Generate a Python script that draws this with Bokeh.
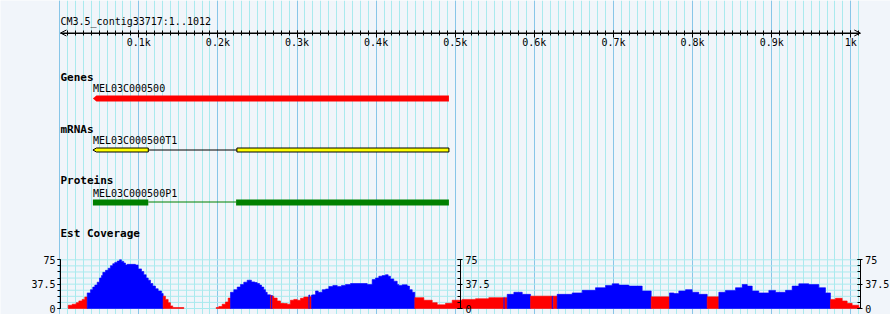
from bokeh.plotting import figure
from bokeh.models import (Range1d, LinearAxis, Grid, FixedTicker, Label, Arrow,
                          OpenHead, ColumnDataSource)
from bokeh.embed import file_html
from bokeh.resources import INLINE

# ---------------- data ----------------
contig_label = "CM3.5_contig33717:1..1012"
contig_start, contig_end = 1, 1012

ruler_ticks = [100, 200, 300, 400, 500, 600, 700, 800, 900, 1000]
ruler_labels = ["0.1k", "0.2k", "0.3k", "0.4k", "0.5k", "0.6k", "0.7k", "0.8k", "0.9k", "1k"]

track_titles = ["Genes", "mRNAs", "Proteins", "Est Coverage"]

gene_name = "MEL03C000500"
gene_start, gene_end = 42, 492

mrna_name = "MEL03C000500T1"
mrna_exon_starts = [42, 224]
mrna_exon_ends = [112, 492]

protein_name = "MEL03C000500P1"
cds_starts = [42, 223]
cds_ends = [112, 492]

# EST coverage (step segments: start bp, depth, colour flag R=red B=blue)
cov_starts = [
    10.8, 15.8, 20.9, 24.2, 28.4, 31.7, 34.8, 38.9, 41.8, 44.4,
    47.4, 50.3, 52.8, 54.5, 57.9, 61.3, 64.2, 67.1, 69.6, 72.7,
    75.6, 78.1, 81.0, 83.2, 85.3, 95.8, 99.2, 103.4, 106.3, 109.3,
    111.9, 114.8, 117.7, 121.1, 124.5, 128.7, 130.8, 133.7, 137.1, 140.0,
    142.9, 156.9, 197.8, 201.1, 205.4, 209.6, 213.0, 215.9, 220.1, 224.4,
    228.5, 232.7, 237.0, 242.4, 246.6, 249.6, 252.6, 255.1, 258.0, 260.1,
    262.3, 266.4, 267.7, 269.0, 270.6, 274.9, 279.1, 283.3, 287.6, 291.7,
    295.9, 300.2, 304.4, 308.6, 314.9, 316.2, 318.3, 320.0, 323.4, 326.8,
    331.9, 336.0, 340.2, 345.3, 350.8, 356.2, 361.3, 367.6, 388.7, 395.0,
    399.2, 403.4, 407.6, 411.8, 415.2, 418.1, 422.3, 426.6, 428.6, 432.9,
    439.2, 442.2, 445.6, 448.9, 460.3, 470.9, 477.2, 487.7, 496.2, 508.8,
    525.6, 542.4, 561.4, 562.7, 565.7, 574.1, 584.7, 595.2, 622.6, 623.9,
    628.9, 647.9, 660.5, 677.3, 690.0, 698.4, 706.8, 719.4, 736.3, 747.7,
    770.8, 776.3, 782.6, 791.1, 799.5, 807.9, 818.5, 833.2, 841.6, 854.3,
    862.7, 869.1, 875.4, 883.7, 896.4, 904.8, 917.5, 925.9, 934.3, 946.9,
    959.6, 968.0, 974.3, 980.6, 989.1, 995.4, 1001.7, 1010.1]
cov_end = 1012
cov_values = [
    5, 6.6, 9, 11.6, 14, 17.7, 24, 29, 33, 36,
    40.5, 47, 50.7, 55.7, 58.8, 62, 66, 69, 71, 73,
    75, 72.5, 70, 67, 68, 67, 61, 57, 52, 47,
    43.6, 38.5, 34.5, 30.4, 27, 23, 19, 14, 9, 4,
    1.5, 0, 1.5, 3, 6.6, 10, 16, 25, 29, 33,
    37, 40.5, 43.6, 41, 40, 38.5, 36, 33, 29, 25,
    21, 20, 20, 19, 16, 11.6, 8, 7.6, 6.6, 12.7,
    14, 12.7, 15.7, 17.7, 20.8, 18, 20.8, 21, 27, 25,
    29, 30, 34, 35.5, 34, 35.5, 37, 38.5, 37, 44.6,
    47, 49.7, 50.7, 52, 49.7, 45.6, 42, 37, 35.5, 36.5,
    34.5, 29, 25, 16.7, 12.7, 9, 5.6, 8, 12.7, 14,
    15, 16.7, 16.7, 16.7, 21.8, 25, 21.8, 19, 19, 19,
    21.8, 24, 28, 32, 35.5, 38, 36, 34.5, 27, 18,
    24, 23, 27, 29, 25, 21.8, 18, 25, 27.9, 32,
    37, 34.5, 27, 24, 27.9, 25, 28, 34.5, 38, 37,
    32, 24, 14, 15.7, 11.6, 8, 5, 1.5]
cov_flags = list(
    "RRRRRRBBBB" "BBBBBBBBBB" "BBBBBBBBBB" "BBBBBBRRRR" "RRRRRRRBBB"
    "BBBBBBBBBB" "BRBRRRRRRR" "RRRRBRBBBB" "BBBBBBBBBB" "BBBBBBBBBB"
    "BBBRRRRRRR" "RRBRBBBRBR" "BBBBBBBBBR" "BBBBBBRBBB" "BBBBBBBBBB"
    "BBRRRRRR")
cov_ticks = [0, 37.5, 75]
cov_tick_labels = ["0", "37.5", "75"]
cov_minor_ticks = [0, 9.375, 18.75, 28.125, 37.5, 46.875, 56.25, 65.625, 75]
cov_axis_positions = [1, 506.5, 1012]

# ---------------- layout constants ----------------
W, H = 890, 314
X0_PX = 59.19          # pixel of bp 0
PX_PER_BP = 0.7911
COV0_PX = 308.0        # pixel of depth 0
PX_PER_DEPTH = (308.0 - 259.3) / 75.0
BG = "#F1F5FA"
MINOR_GRID = "#AAEAEE"
MAJOR_GRID = "#88C6E8"
MONO = "DejaVu Sans Mono"
DY = -3   # text baseline correction

x_range = Range1d(-X0_PX / PX_PER_BP, (W - X0_PX) / PX_PER_BP)
y_range = Range1d(H, 0)   # data y == pixel from top for layout

p = figure(width=W, height=H, x_range=x_range, y_range=y_range,
           x_axis_type=None, y_axis_type=None, toolbar_location=None,
           output_backend="svg", min_border=0)
p.min_border_left = p.min_border_right = p.min_border_top = p.min_border_bottom = 0
p.background_fill_color = BG
p.border_fill_color = BG
p.outline_line_color = None
p.extra_y_ranges = {"cov": Range1d(-(H - COV0_PX) / PX_PER_DEPTH, COV0_PX / PX_PER_DEPTH)}

# vertical grid
vgrid = Grid(dimension=0, level="underlay",
             ticker=FixedTicker(ticks=[0] + ruler_ticks,
                                minor_ticks=list(range(0, 1011, 10))),
             grid_line_color=MAJOR_GRID, grid_line_width=1,
             minor_grid_line_color=MINOR_GRID, minor_grid_line_width=1)
p.add_layout(vgrid)

# horizontal grid of coverage track
p.segment(x0=[contig_start] * len(cov_minor_ticks), x1=[contig_end] * len(cov_minor_ticks),
          y0=cov_minor_ticks, y1=cov_minor_ticks, y_range_name="cov",
          line_color=MINOR_GRID, line_width=1)

# ruler
ruler = LinearAxis(fixed_location=32.5, bounds=(contig_start, contig_end),
                   ticker=FixedTicker(ticks=ruler_ticks,
                                      minor_ticks=list(range(10, 1011, 10))),
                   major_label_overrides={t: l for t, l in zip(ruler_ticks, ruler_labels)},
                   major_tick_in=3, major_tick_out=4, minor_tick_in=3, minor_tick_out=2,
                   major_label_standoff=0, axis_line_color="black",
                   major_label_text_font=MONO, major_label_text_font_size="10px",
                   major_label_text_color="black")
p.add_layout(ruler, "below")
p.add_layout(Arrow(start=OpenHead(size=6, line_width=1), end=OpenHead(size=6, line_width=1),
                   x_start=contig_start, y_start=32.5, x_end=contig_end, y_end=32.5,
                   line_width=1, line_color="black"))

p.add_layout(Label(x=contig_start, y=24 + DY, text=contig_label, text_font=MONO,
                   text_font_size="10px", text_baseline="alphabetic", text_color="black"))

# track titles
for t, yb in zip(track_titles, [80, 131.5, 183, 236]):
    p.add_layout(Label(x=contig_start, y=yb + DY, text=t, text_font=MONO,
                       text_font_size="11px", text_font_style="bold",
                       text_baseline="alphabetic", text_color="black"))

ARROW_BP = 3.5 / PX_PER_BP

# gene
p.patch(x=[gene_start, gene_start + ARROW_BP, gene_end, gene_end, gene_start + ARROW_BP],
        y=[98, 95, 95, 101, 101], fill_color="#FF0000", line_color=None)
p.add_layout(Label(x=gene_start, y=91 + DY, text=gene_name, text_font=MONO,
                   text_font_size="10px", text_baseline="alphabetic", text_color="black"))

# mRNA
p.segment(x0=mrna_exon_ends[:-1], x1=mrna_exon_starts[1:], y0=149.5, y1=149.5,
          line_color="black", line_width=1)
p.patch(x=[mrna_exon_starts[0], mrna_exon_starts[0] + ARROW_BP, mrna_exon_ends[0],
           mrna_exon_ends[0], mrna_exon_starts[0] + ARROW_BP],
        y=[149.5, 147.5, 147.5, 151.5, 151.5], fill_color="#FFFF00",
        line_color="black", line_width=1)
p.quad(left=mrna_exon_starts[1:], right=mrna_exon_ends[1:], top=147.5, bottom=151.5,
       fill_color="#FFFF00", line_color="black", line_width=1)
p.add_layout(Label(x=mrna_exon_starts[0], y=143 + DY, text=mrna_name, text_font=MONO,
                   text_font_size="10px", text_baseline="alphabetic", text_color="black"))

# protein
p.segment(x0=cds_ends[:-1], x1=cds_starts[1:], y0=201.5, y1=201.5,
          line_color="#008000", line_width=1)
p.quad(left=cds_starts, right=cds_ends, top=199, bottom=205,
       fill_color="#008000", line_color=None)
p.add_layout(Label(x=cds_starts[0], y=196 + DY, text=protein_name, text_font=MONO,
                   text_font_size="10px", text_baseline="alphabetic", text_color="black"))

# coverage: merge consecutive same-colour segments into step-shaped polygons
ends = cov_starts[1:] + [cov_end]
cmap = {"R": "#FF0000", "B": "#0000FF"}
runs = []
cur = None
for s, e, v, f in zip(cov_starts, ends, cov_values, cov_flags):
    if v <= 0:
        cur = None
        continue
    if cur is None or cur["f"] != f:
        cur = {"f": f, "xs": [s], "ys": [0.0], "e": s}
        runs.append(cur)
    cur["xs"] += [s, e]
    cur["ys"] += [v, v]
    cur["e"] = e
for r in runs:
    r["xs"].append(r["e"])
    r["ys"].append(0.0)
src = ColumnDataSource(dict(xs=[r["xs"] for r in runs], ys=[r["ys"] for r in runs],
                            color=[cmap[r["f"]] for r in runs]))
p.patches(xs="xs", ys="ys", source=src, fill_color="color", line_color="color",
          line_width=0.6, y_range_name="cov")

# coverage axes
for i, pos in enumerate(cov_axis_positions):
    ax = LinearAxis(y_range_name="cov", fixed_location=pos, bounds=(0, 75),
                    ticker=FixedTicker(ticks=cov_ticks, minor_ticks=cov_minor_ticks),
                    major_label_overrides={t: l for t, l in zip(cov_ticks, cov_tick_labels)},
                    axis_line_color="black", major_label_text_font=MONO,
                    major_label_text_font_size="10px", major_label_text_color="black")
    if i == 0:
        ax.major_tick_out = 3
        ax.major_tick_in = 0
        ax.minor_tick_out = 3
        ax.minor_tick_in = 0
        ax.major_label_standoff = 2
        p.add_layout(ax, "left")
    else:
        ax.major_tick_out = 2
        ax.major_tick_in = 3
        ax.minor_tick_out = 0
        ax.minor_tick_in = 3
        ax.major_label_standoff = 3
        p.add_layout(ax, "right")

open("out.html", "w").write(file_html(p, INLINE))
